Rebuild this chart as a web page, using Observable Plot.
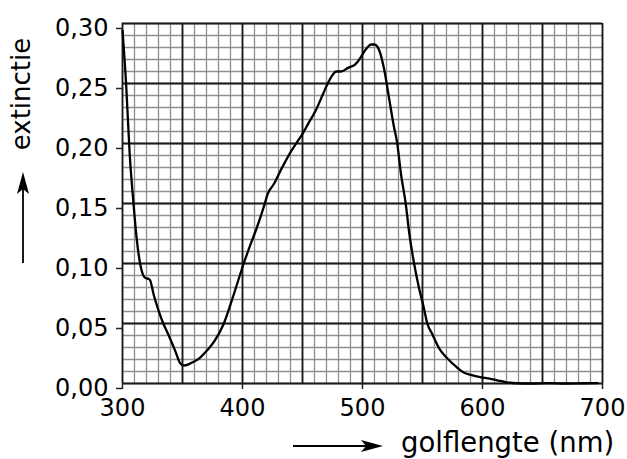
<!DOCTYPE html>
<html>
<head>
<meta charset="utf-8">
<script src="https://cdn.jsdelivr.net/npm/d3@7"></script>
<script src="https://cdn.jsdelivr.net/npm/@observablehq/plot@0.6"></script>
<style>
  html, body { margin: 0; padding: 0; background: #fff; }
  #chart { position: relative; width: 627px; height: 459px; overflow: hidden; }
  svg { font-family: "DejaVu Sans", sans-serif; }
</style>
</head>
<body>
<div id="chart"></div>
<script>
// Data
const wavelength = [300, 303, 306, 309, 312, 316, 319, 322, 323, 326, 330, 334, 339, 344, 348, 351, 355, 359, 364, 369, 377, 384, 392, 401, 406, 412, 418, 421, 426, 432, 439, 446, 450, 455, 461, 467, 471, 475, 478, 482, 488, 494, 498, 501, 504, 507, 510, 514, 518, 522, 526, 529, 532, 536, 539, 543, 547, 551, 554, 558, 564, 571, 578, 584, 591, 598, 606, 612, 620, 629, 640, 656, 670, 685, 696];
const extinctie  = [0.294, 0.250, 0.191, 0.152, 0.119, 0.094, 0.088, 0.087, 0.086, 0.074, 0.061, 0.050, 0.039, 0.027, 0.017, 0.015, 0.016, 0.018, 0.021, 0.026, 0.036, 0.049, 0.072, 0.100, 0.114, 0.130, 0.148, 0.158, 0.166, 0.178, 0.191, 0.202, 0.208, 0.217, 0.2275, 0.241, 0.250, 0.257, 0.260, 0.260, 0.263, 0.266, 0.271, 0.276, 0.280, 0.2825, 0.2825, 0.2775, 0.262, 0.2386, 0.215, 0.1997, 0.175, 0.150, 0.125, 0.100, 0.080, 0.0636, 0.050, 0.0414, 0.029, 0.0206, 0.014, 0.0094, 0.007, 0.0053, 0.004, 0.0027, 0.001, 0.0002, 0.0, 0.0003, 0.0, 0.0002, 0.0003];

const xTicks = [300, 400, 500, 600, 700];
const yTicks = [0, 0.05, 0.10, 0.15, 0.20, 0.25, 0.30];
const xMinor = d3.range(300, 701, 10);
const yMinor = d3.range(0, 31, 1).map(d => d / 100);
const xMajor = d3.range(300, 701, 50);
const yMajor = yTicks;

const xTitle = "golflengte (nm)";
const yTitle = "extinctie";

const spectrum = wavelength.map((w, i) => ({w, e: extinctie[i]}));

const W = 627, H = 459;
const plot = Plot.plot({
  width: W,
  height: H,
  marginLeft: 122,
  marginRight: 25,
  marginTop: 23,
  marginBottom: 76,
  style: {fontFamily: "DejaVu Sans, sans-serif", fontSize: "24px", color: "#000", background: "#fff", overflow: "visible"},
  x: {domain: [300, 700]},
  y: {domain: [0, 0.30]},
  marks: [
    Plot.ruleX(xMinor, {stroke: "#8f8f8f", strokeWidth: 1.3}),
    Plot.ruleY(yMinor, {stroke: "#8f8f8f", strokeWidth: 1.3}),
    Plot.ruleX(xMajor, {stroke: "#1a1a1a", strokeWidth: 1.8}),
    Plot.ruleY(yMajor, {stroke: "#1a1a1a", strokeWidth: 1.8}),
    Plot.axisX({ticks: xTicks, tickSize: 6, tickPadding: 9, label: null, fontSize: 24, stroke: "#222", strokeWidth: 1.5}),
    Plot.axisY({ticks: yTicks, tickSize: 6, tickPadding: 8, label: null, fontSize: 24, dy: 5, stroke: "#222", strokeWidth: 1.5,
      tickFormat: d => d.toFixed(2).replace(".", ",")}),
    Plot.line(spectrum, {x: "w", y: "e", stroke: "#000", strokeWidth: 2.3, curve: "monotone-x", strokeLinejoin: "round"})
  ]
});
document.getElementById("chart").appendChild(plot);

// Axis titles with long arrows (decoration in pixel space)
const svg = d3.select(plot);
const g = svg.append("g").attr("fill", "#000").attr("stroke", "none");
g.append("text")
  .attr("x", 401).attr("y", 452)
  .attr("text-anchor", "start")
  .attr("font-size", 27.5)
  .attr("font-family", "DejaVu Sans, sans-serif")
  .text(xTitle);
g.append("line").attr("x1", 293).attr("y1", 446).attr("x2", 372).attr("y2", 446)
  .attr("stroke", "#000").attr("stroke-width", 1.8);
g.append("path").attr("d", "M383,446 L361,440 L366,446 L361,452 Z");

g.append("text")
  .attr("transform", "translate(30,94) rotate(-90)")
  .attr("text-anchor", "middle")
  .attr("font-size", 26)
  .attr("font-family", "DejaVu Sans, sans-serif")
  .text(yTitle);
g.append("line").attr("x1", 23).attr("y1", 263).attr("x2", 23).attr("y2", 184)
  .attr("stroke", "#000").attr("stroke-width", 1.8);
g.append("path").attr("d", "M23,172 L17,194 L23,189 L29,194 Z");
</script>
</body>
</html>
